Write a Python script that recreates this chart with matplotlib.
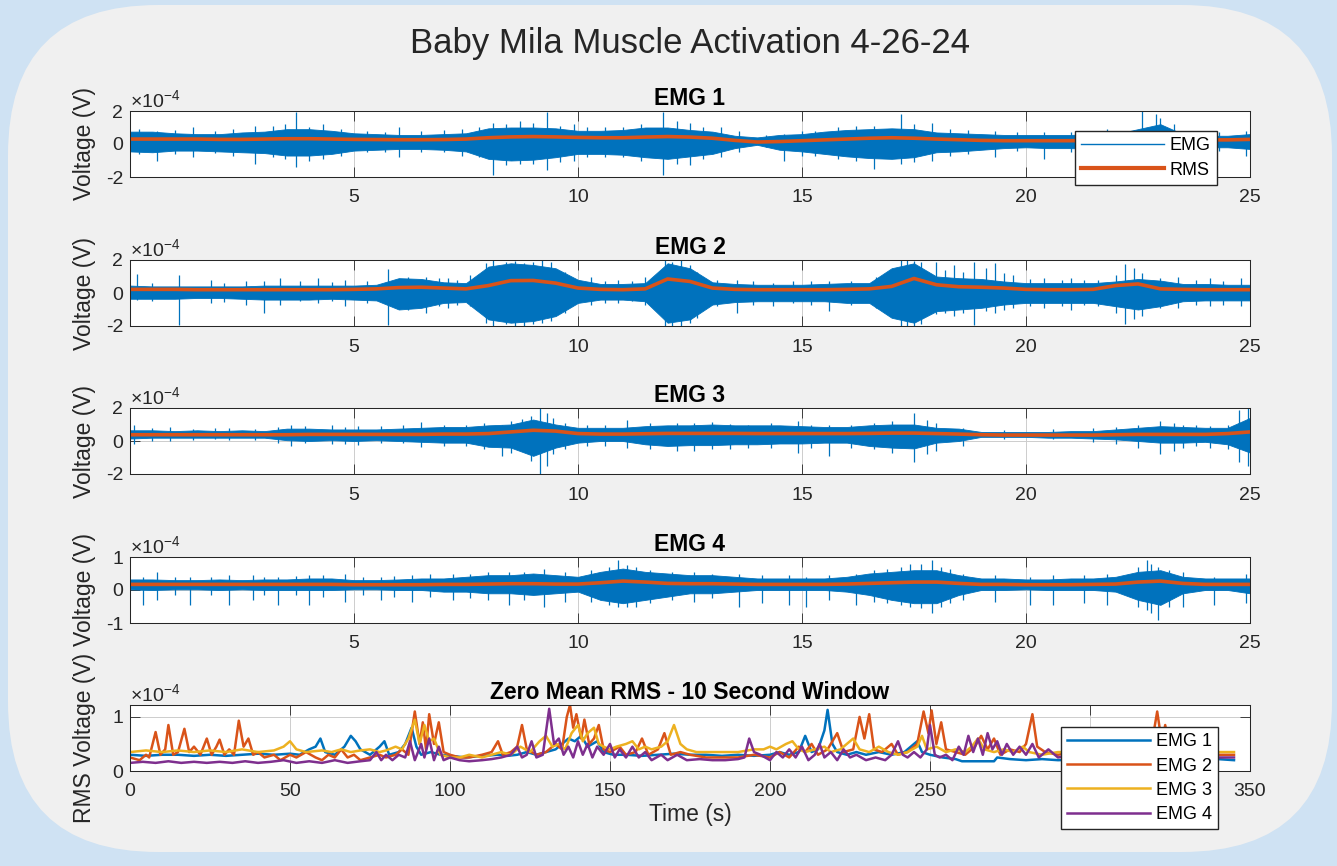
import numpy as np
import matplotlib.pyplot as plt
from matplotlib.patches import FancyBboxPatch
from matplotlib.lines import Line2D

plt.rcParams['font.family'] = ['Liberation Sans', 'DejaVu Sans']
plt.rcParams['mathtext.fontset'] = 'custom'
plt.rcParams['mathtext.rm'] = 'Liberation Sans'
plt.rcParams['mathtext.it'] = 'Liberation Sans:italic'
plt.rcParams['axes.unicode_minus'] = False

# colours (MATLAB default order)
BLUE = '#0072BD'
ORANGE = '#D95319'
YELLOW = '#EDB120'
PURPLE = '#7E2F8E'
INK = '#262626'

# ---------------- data (all voltages in units of 1e-4 V) ----------------
# envelope samples every 0.5 s from 0 to 25 s
t_env = np.arange(0, 25.01, 0.5)

emg1_upper = [.75, .75, .65, .6, .6, .7, .75, .9, .9, .8, .65, .6, .55, .55, .6, .65, .95, 1.0, 1.0, .95,
              .8, .8, .85, 1.0, 1.0, .85, .75, .5, .4, .55, .6, .75, .85, .9, .95, .9, .7, .65, .6, .55,
              .55, .55, .55, .6, .6, .9, 1.2, .6, .5, .5, .6]
emg1_lower = [-.45, -.5, -.4, -.4, -.45, -.5, -.55, -.7, -.7, -.6, -.4, -.35, -.3, -.3, -.35, -.45, -.9, -1.0,
              -.95, -.8, -.6, -.6, -.65, -.8, -.9, -.75, -.6, -.25, -.05, -.35, -.45, -.6, -.75, -.85, -.9,
              -.8, -.5, -.45, -.35, -.25, -.2, -.25, -.25, -.3, -.3, -.45, -.5, -.3, -.2, -.2, -.3]
emg1_rms = [.3, .3, .3, .3, .28, .28, .3, .32, .32, .3, .28, .27, .26, .26, .27, .3, .38, .43, .45, .43,
            .4, .38, .38, .42, .45, .42, .35, .22, .12, .15, .2, .25, .3, .35, .38, .35, .3, .26, .22, .2,
            .2, .2, .2, .22, .25, .3, .35, .3, .25, .25, .28]
# (time, low tip, high tip) of the individual spikes sticking out of the dense trace
emg1_spikes = [(0.2, -0.6, 0.9), (0.6, -1.0, 0.8), (1.0, -0.6, 0.85), (1.4, -0.8, 1.0), (1.9, -0.55, 0.8),
               (2.3, -0.7, 0.9), (2.8, -1.2, 1.1), (3.2, -0.8, 1.1), (3.45, -0.9, 1.2), (3.7, -1.4, 1.95),
               (4.0, -1.0, 1.0), (4.3, -0.9, 1.2), (4.7, -0.7, 0.9), (5.3, -0.5, 0.8), (5.7, -0.5, 0.75),
               (6.0, -0.8, 1.0), (6.5, -0.5, 0.8), (7.0, -0.5, 0.85), (7.4, -0.7, 0.9), (7.8, -0.8, 1.0),
               (8.1, -1.9, 1.3), (8.4, -1.3, 1.2), (8.7, -1.2, 1.4), (9.0, -1.2, 1.3), (9.3, -1.6, 1.95),
               (9.6, -1.1, 1.1), (9.9, -1.0, 1.2), (10.2, -0.8, 1.0), (10.6, -0.8, 1.0), (11.0, -0.8, 1.0),
               (11.4, -1.0, 1.2), (11.9, -1.9, 1.95), (12.2, -1.2, 1.4), (12.5, -1.3, 1.3),
               (12.8, -0.9, 1.0), (13.2, -0.8, 1.0), (13.6, -0.5, 0.8), (14.2, -0.2, 0.55),
               (14.6, -1.0, 0.6), (15.0, -0.7, 0.8), (15.3, -0.7, 0.8), (15.8, -0.9, 1.0),
               (16.2, -1.0, 1.1), (16.6, -1.5, 1.1), (17.2, -1.2, 1.84), (17.5, -1.1, 1.2),
               (17.9, -1.0, 1.3), (18.3, -0.7, 0.9), (18.7, -0.6, 0.85), (19.3, -0.8, 0.8),
               (19.8, -0.4, 0.7), (20.4, -0.9, 0.7), (21.0, -0.5, 0.75), (21.4, -0.4, 0.7),
               (21.8, -0.8, 0.9), (22.6, -0.6, 2.0), (22.9, -0.7, 1.8), (23.0, -0.5, 1.6),
               (23.3, -0.5, 1.2), (23.7, -0.4, 0.7), (24.3, -0.4, 0.75), (24.9, -0.7, 0.8)]

emg2_upper = [.45, .4, .4, .4, .4, .4, .45, .45, .45, .45, .45, .5, .9, .85, .65, .6, 1.6, 1.8, 1.7, 1.5,
              .8, .55, .55, .6, 1.8, 1.5, .65, .55, .5, .5, .5, .55, .6, .6, 1.5, 1.8, 1.0, .9, .85, .7,
              .6, .6, .6, .6, .7, .85, .75, .55, .55, .5, .5]
emg2_lower = [-.35, -.35, -.35, -.3, -.3, -.35, -.4, -.4, -.4, -.35, -.4, -.45, -1.0, -.9, -.6, -.55, -1.6,
              -1.8, -1.7, -1.4, -.6, -.4, -.4, -.5, -1.8, -1.6, -.7, -.55, -.5, -.5, -.5, -.5, -.6, -.6,
              -1.5, -1.8, -1.1, -1.0, -.9, -.7, -.6, -.6, -.6, -.6, -.8, -1.0, -.8, -.5, -.45, -.45, -.45]
emg2_rms = [.22, .22, .22, .2, .2, .2, .2, .2, .2, .2, .22, .25, .33, .35, .3, .25, .45, .75, .76, .6,
            .3, .22, .2, .25, .85, .7, .3, .22, .2, .2, .2, .2, .22, .25, .4, .88, .5, .38, .35, .3,
            .22, .2, .2, .22, .45, .55, .25, .22, .2, .2, .2]
emg2_spikes = [(0.15, -0.4, 1.15), (0.5, -0.5, 0.6), (1.1, -1.95, 1.1), (1.8, -0.6, 0.8), (2.1, -0.55, 0.6),
               (2.6, -0.7, 0.7), (3.0, -1.2, 0.75), (3.35, -0.7, 0.9), (3.8, -0.5, 0.7), (4.2, -0.6, 0.9),
               (4.5, -0.5, 0.65), (4.8, -0.8, 0.8), (5.3, -0.6, 0.75), (5.75, -1.95, 1.45),
               (6.2, -1.0, 1.0), (6.6, -1.2, 0.95), (6.9, -0.8, 0.9), (7.1, -0.9, 0.9), (7.3, -0.7, 0.8),
               (7.6, -0.8, 1.1), (7.95, -1.8, 1.8), (8.1, -2.0, 2.0), (8.4, -1.9, 1.9), (8.6, -2.0, 1.95),
               (8.8, -2.0, 1.8), (9.0, -1.9, 1.9), (9.2, -1.8, 2.0), (9.4, -1.7, 1.9), (9.7, -1.2, 1.3),
               (10.3, -0.7, 1.0), (10.6, -0.6, 0.7), (10.9, -0.6, 0.8), (11.2, -0.5, 0.75),
               (11.5, -0.7, 1.0), (11.95, -2.0, 2.0), (12.1, -2.0, 1.9), (12.3, -2.0, 2.0),
               (12.5, -1.8, 1.7), (12.65, -1.5, 1.3), (13.1, -0.8, 0.8), (13.55, -1.2, 0.8),
               (13.9, -0.7, 0.7), (14.35, -0.8, 0.6), (14.8, -0.6, 0.7), (15.2, -0.7, 0.7),
               (15.6, -1.1, 0.7), (16.1, -0.7, 0.75), (16.65, -0.9, 1.0), (17.2, -2.0, 2.0),
               (17.35, -2.0, 2.0), (17.5, -2.0, 1.95), (17.65, -1.9, 1.9), (18.0, -1.3, 1.9),
               (18.2, -1.2, 1.4), (18.4, -1.4, 1.7), (18.6, -1.2, 1.3), (18.85, -1.95, 1.9),
               (19.1, -1.1, 1.5), (19.3, -1.2, 1.8), (19.5, -1.0, 1.2), (19.7, -0.9, 1.1),
               (20.1, -0.8, 0.85), (20.4, -0.9, 0.9), (20.8, -0.8, 0.8), (21.0, -1.0, 0.9),
               (21.3, -0.7, 0.8), (21.6, -0.8, 0.8), (22.0, -1.2, 1.1), (22.2, -1.9, 1.75),
               (22.4, -1.6, 1.5), (22.6, -1.4, 1.2), (23.0, -0.9, 0.9), (23.4, -0.9, 1.0),
               (23.8, -0.7, 0.8), (24.1, -0.8, 0.9), (24.4, -0.7, 0.75), (24.8, -0.8, 0.9)]

emg3_upper = [.65, .65, .6, .65, .6, .65, .6, .75, .75, .7, .7, .7, .75, .8, .85, .85, .95, 1.0, 1.3, 1.0,
              .8, .8, .8, .9, .95, .95, 1.0, .95, .95, .95, .9, .85, .85, .95, 1.0, 1.0, .8, .75, .55, .55,
              .55, .55, .6, .6, .7, .8, .9, .85, .8, .8, 1.4]
emg3_lower = [.15, .2, .2, .2, .2, .2, .2, .05, .0, .05, .0, .05, .0, -.05, -.1, -.1, -.35, -.4, -.9, -.4,
              -.1, .0, .0, -.2, -.3, -.25, -.25, -.2, -.2, -.15, -.15, -.1, -.1, -.3, -.4, -.45, -.1, .0,
              .25, .25, .25, .2, .2, .15, .1, .0, -.1, -.1, -.05, -.2, -.7]
emg3_rms = [.38, .38, .38, .38, .38, .38, .38, .38, .4, .4, .4, .4, .4, .4, .42, .42, .45, .55, .65, .6,
            .45, .42, .42, .44, .46, .46, .46, .46, .45, .45, .45, .45, .45, .46, .48, .48, .45, .42, .38,
            .36, .36, .36, .36, .36, .38, .4, .4, .4, .4, .45, .55]
emg3_spikes = [(0.1, -0.2, 1.0), (0.5, 0.0, 0.8), (0.9, 0.0, 0.85), (1.4, 0.05, 0.75), (1.9, 0.1, 0.8),
               (2.2, 0.05, 0.8), (2.8, 0.05, 0.75), (3.3, -0.1, 0.85), (3.6, -0.3, 1.0), (3.9, -0.15, 0.9),
               (4.5, -0.2, 0.95), (4.8, -0.2, 0.85), (5.1, -0.25, 0.9), (5.6, -0.1, 0.9), (6.1, -0.1, 0.95),
               (6.5, -0.35, 1.15), (7.0, -0.3, 0.95), (7.5, -0.3, 1.0), (7.9, -0.5, 1.1), (8.3, -0.9, 1.0),
               (8.5, -0.7, 1.2), (8.75, -0.6, 1.35), (8.95, -1.2, 1.5), (9.15, -2.0, 2.0), (9.3, -1.5, 1.7),
               (9.45, -0.8, 1.4), (9.7, -0.5, 1.1), (10.2, -0.3, 0.95), (10.6, -0.3, 1.0), (11.1, -0.4, 1.3),
               (11.6, -0.5, 1.1), (12.2, -0.6, 1.1), (12.6, -0.6, 1.1), (13.0, -0.5, 1.15),
               (13.4, -0.5, 1.05), (13.8, -0.4, 1.0), (14.3, -0.4, 1.1), (14.9, -0.7, 1.2),
               (15.2, -0.4, 1.0), (15.6, -0.9, 0.95), (16.1, -0.4, 1.0), (16.6, -0.5, 1.1),
               (17.0, -0.7, 1.2), (17.5, -1.3, 1.7), (17.8, -0.8, 1.3), (18.0, -0.6, 1.1),
               (18.6, -0.3, 0.8), (19.5, 0.15, 0.65), (20.6, 0.1, 0.7), (21.5, -0.05, 0.8),
               (22.0, -0.2, 0.85), (22.5, -0.4, 0.95), (23.0, -0.8, 1.2), (23.3, -0.6, 1.1),
               (23.5, -0.4, 1.0), (23.8, -0.3, 0.95), (24.1, -0.4, 0.9), (24.5, -0.5, 1.0),
               (24.75, -1.3, 1.9), (24.95, -1.5, 2.0)]

emg4_upper = [.32, .32, .3, .3, .32, .3, .32, .32, .35, .35, .3, .3, .32, .35, .35, .4, .45, .45, .5, .45,
              .4, .55, .65, .55, .5, .45, .45, .4, .35, .35, .35, .35, .4, .5, .55, .6, .6, .45, .35, .35,
              .32, .32, .35, .35, .4, .55, .6, .4, .35, .35, .35]
emg4_lower = [.02, .0, .02, .02, .0, .02, .0, .0, .0, .0, .02, .02, .0, .0, -.05, -.05, -.1, -.1, -.15,
              -.1, -.05, -.3, -.4, -.3, -.2, -.1, -.1, -.05, .0, .0, .0, .0, -.05, -.15, -.3, -.4, -.4,
              -.15, .0, .0, .02, .0, .0, .0, -.05, -.3, -.45, -.1, .0, .0, -.1]
emg4_rms = [.17, .17, .17, .17, .17, .17, .17, .17, .17, .17, .16, .16, .16, .16, .17, .17, .18, .19, .19,
            .18, .18, .22, .27, .24, .2, .19, .19, .18, .17, .17, .17, .17, .18, .2, .22, .24, .24, .2,
            .17, .17, .16, .16, .16, .17, .18, .24, .27, .2, .17, .17, .17]
emg4_spikes = [(0.3, -0.45, 0.4), (0.6, -0.3, 0.55), (1.0, -0.15, 0.4), (1.35, -0.45, 0.4),
               (1.8, -0.15, 0.4), (2.2, -0.45, 0.45), (2.75, -0.3, 0.45), (3.0, -0.15, 0.4),
               (3.3, -0.45, 0.4), (3.7, -0.15, 0.42), (4.0, -0.45, 0.45), (4.3, -0.2, 0.45),
               (4.8, -0.35, 0.5), (5.2, -0.15, 0.4), (5.6, -0.3, 0.4), (5.9, -0.2, 0.42), (6.3, -0.35, 0.45),
               (6.7, -0.2, 0.5), (7.2, -0.3, 0.5), (7.6, -0.25, 0.5), (8.0, -0.3, 0.55), (8.45, -0.45, 0.55),
               (8.8, -0.3, 0.55), (9.25, -0.5, 0.65), (9.7, -0.35, 0.55), (10.3, -0.35, 0.6),
               (10.7, -0.45, 0.7), (10.9, -0.5, 0.9), (11.1, -0.5, 0.75), (11.3, -0.5, 0.7),
               (11.6, -0.4, 0.6), (12.1, -0.3, 0.55), (12.6, -0.35, 0.55), (13.0, -0.25, 0.5),
               (13.6, -0.5, 0.5), (14.1, -0.4, 0.45), (14.7, -0.45, 0.45), (15.1, -0.5, 0.4),
               (15.6, -0.3, 0.45), (16.2, -0.45, 0.5), (16.6, -0.35, 0.6), (16.9, -0.4, 0.65),
               (17.2, -0.45, 0.7), (17.4, -0.5, 0.8), (17.65, -0.55, 0.8), (17.9, -0.7, 0.9),
               (18.1, -0.5, 0.7), (18.3, -0.4, 0.65), (18.6, -0.3, 0.5), (19.3, -0.35, 0.45),
               (20.1, -0.45, 0.4), (20.6, -0.45, 0.45), (21.3, -0.4, 0.45), (21.8, -0.45, 0.5),
               (22.5, -0.5, 0.7), (22.7, -0.6, 0.9), (22.8, -0.7, 0.8), (22.95, -0.9, 0.7),
               (23.2, -0.5, 0.6), (23.5, -0.5, 0.55), (24.2, -0.45, 0.4), (24.9, -0.4, 0.5)]

# zero-mean RMS over the whole 350 s recording, (time s, value) samples
rms1_t = [0, 5, 10, 15, 20, 25, 30, 35, 40, 45, 50, 53, 56, 58, 59.5, 61, 64, 67, 69, 70.5, 72, 75, 78,
          79.5, 81, 84, 86, 88, 89.5, 91, 94, 97, 100, 105, 110, 115, 118, 121, 124, 127, 130, 133, 135,
          137, 139, 141, 143, 146, 148, 151, 155, 160, 165, 170, 175, 180, 185, 190, 195, 200, 203, 206,
          209, 211, 213, 215, 217, 218, 219.5, 221, 224, 227, 230, 234, 238, 242, 244, 246, 247.5, 250,
          254, 258, 260, 265, 270, 271, 275, 280, 285, 290, 300, 310, 320, 330, 340, 345]
rms1_v = [.3, .28, .3, .3, .28, .3, .28, .3, .32, .3, .32, .3, .4, .45, .6, .35, .3, .45, .65, .55, .4, .3,
          .45, .55, .3, .35, .5, .8, .45, .3, .35, .3, .28, .25, .28, .3, .28, .3, .35, .3, .35, .4, .5,
          .6, .55, .65, .45, .55, .35, .3, .3, .28, .3, .32, .3, .3, .28, .3, .28, .3, .35, .3, .35, .65,
          .35, .4, .75, 1.13, .5, .35, .3, .35, .3, .35, .3, .35, .45, .55, .35, .3, .25, .22, .18, .18,
          .18, .25, .22, .2, .22, .2, .22, .2, .22, .2, .22, .2]

rms2_t = [0, 3, 5, 6, 8, 9.5, 11, 12, 13.5, 15, 17, 18.5, 20, 22, 24, 25.5, 27, 28, 29.5, 31, 32.5, 34,
          35.5, 37, 38.5, 40, 42, 45, 47, 50, 52, 55, 58, 60, 62, 64, 66, 68, 70, 72, 75, 78, 80, 83, 85,
          87, 89, 90.5, 91.5, 92.5, 93.5, 95, 96.5, 98, 100, 103, 106, 110, 113, 115, 116.5, 119, 121,
          122.5, 124, 127, 130, 133, 135, 136.5, 137.5, 138.5, 139.5, 141, 142, 143.5, 145, 146.5, 148,
          150, 153, 155, 158, 160, 162, 165, 167, 169, 172, 175, 180, 185, 190, 195, 200, 203, 206, 209,
          211, 213, 215, 218, 221, 223, 226, 228, 229.5, 231, 232.5, 235, 238, 240, 243, 246, 248, 249.5,
          250.5, 252, 253.5, 255, 258, 261, 264, 266, 268, 270, 272, 275, 278, 280, 282, 283.5, 286, 290,
          295, 300, 305, 310, 315, 319, 321, 322.5, 323.5, 325, 330, 335, 340, 345]
rms2_v = [.25, .2, .3, .25, .72, .3, .4, .85, .3, .35, .78, .35, .45, .3, .6, .3, .45, .58, .3, .4, .3, .93,
          .45, .6, .3, .35, .25, .3, .2, .3, .25, .35, .25, .2, .3, .25, .4, .25, .3, .2, .25, .3, .25, .3,
          .4, .3, 1.1, .5, .9, .4, 1.05, .5, .9, .35, .3, .25, .25, .3, .35, .55, .3, .35, .45, .85, .4,
          .3, .35, .5, .4, 1.0, 1.22, .8, 1.05, .6, .95, .5, .6, .85, .4, .35, .45, .3, .35, .6, .3, .4,
          .7, .3, .35, .3, .25, .25, .25, .3, .25, .35, .25, .45, .35, .5, .3, .4, .7, .35, .4, 1.0, .6,
          1.05, .4, .35, .5, .3, .35, .5, 1.1, .7, 1.12, .5, .9, .4, .35, .3, .45, .65, .4, .6, .3, .4,
          .35, .5, 1.05, .45, .35, .3, .35, .3, .4, .35, .3, .4, 1.1, .5, .85, .35, .3, .35, .3, .3]

rms3_t = [0, 5, 10, 15, 20, 25, 30, 35, 40, 45, 48, 50, 52, 55, 60, 63, 66, 69, 72, 75, 78, 80, 83, 85,
          87, 89, 90.5, 92, 93.5, 95, 97, 100, 103, 106, 110, 113, 116, 119, 122, 125, 128, 130, 132, 134,
          136, 138, 140, 141.5, 143, 145, 146.5, 148, 150, 152, 155, 157, 159, 161, 163, 166, 168, 170,
          172, 174, 177, 180, 185, 190, 195, 198, 200, 202, 205, 207, 209, 211, 214, 217, 219, 222, 224,
          226, 228, 231, 234, 237, 240, 243, 246, 247.5, 249, 252, 255, 258, 261, 263, 265, 267, 270, 273,
          276, 279, 281, 285, 290, 300, 310, 320, 330, 340, 345]
rms3_v = [.35, .38, .35, .38, .35, .38, .35, .4, .35, .38, .45, .55, .4, .35, .38, .35, .4, .35, .38, .4,
          .35, .38, .45, .4, .6, .95, .5, .85, .55, .6, .3, .25, .25, .3, .25, .3, .35, .3, .45, .35, .55,
          .65, .45, .5, .4, .7, .85, .55, .7, .8, .5, .45, .4, .45, .5, .55, .4, .45, .4, .45, .55, .85,
          .5, .4, .35, .35, .35, .35, .4, .4, .45, .4, .5, .55, .4, .35, .4, .45, .35, .4, .5, .6, .4, .35,
          .45, .35, .3, .35, .45, .65, .4, .45, .35, .4, .35, .45, .6, .4, .35, .4, .35, .45, .35, .3, .35,
          .35, .35, .35, .35, .35, .35]

rms4_t = [0, 4, 8, 12, 16, 20, 24, 28, 32, 36, 40, 44, 48, 52, 56, 60, 64, 68, 72, 75, 77, 78.5, 80, 82,
          84, 86, 87.5, 89, 91, 92, 93.5, 95, 96.5, 98, 100, 103, 106, 110, 113, 116, 119, 121, 122.5, 124,
          125.5, 127, 129, 131, 132.5, 134, 135.5, 137, 138.5, 140, 141.5, 143, 144.5, 146, 148, 150,
          151.5, 153, 155, 157, 159, 161, 163, 166, 168, 171, 174, 178, 182, 186, 190, 192, 193.5, 195,
          197, 200, 202, 204, 206, 208, 210, 212, 214, 215.5, 217, 219, 221, 223, 225, 227, 230, 233, 236,
          238, 240, 241.5, 243, 245, 247, 249, 250, 251.5, 253, 255, 257, 259, 260.5, 262, 263.5, 265,
          266.5, 268, 269.5, 271, 272.5, 274, 276, 278, 280, 282, 284, 287, 290, 295, 300, 305, 310, 315,
          320, 325, 330, 340, 345]
rms4_v = [.15, .17, .15, .18, .15, .17, .15, .17, .15, .18, .15, .17, .2, .15, .18, .15, .2, .15, .18, .2,
          .35, .2, .3, .2, .3, .25, .55, .2, .5, .25, .6, .2, .45, .2, .25, .2, .18, .2, .22, .25, .3, .45,
          .25, .3, .55, .25, .3, 1.15, .5, .6, .3, .45, .25, .55, .3, .5, .25, .45, .3, .5, .25, .4, .25,
          .45, .25, .35, .2, .3, .2, .3, .2, .22, .2, .2, .22, .25, .6, .35, .3, .2, .35, .25, .4, .25,
          .45, .2, .3, .5, .25, .35, .2, .4, .25, .3, .2, .25, .2, .3, .55, .3, .25, .35, .25, .4, .85, .3,
          .25, .3, .2, .45, .3, .65, .35, .6, .3, .7, .4, .55, .3, .5, .3, .45, .3, .5, .25, .4, .25, .3,
          .25, .3, .25, .3, .25, .3, .25, .25, .25]

emg_titles = ['EMG 1', 'EMG 2', 'EMG 3', 'EMG 4']
emg_ylims = [2, 2, 2, 1]
time_ticks = [5, 10, 15, 20, 25]
rms_ticks = [0, 50, 100, 150, 200, 250, 300, 350]

# ---------------- figure ----------------
W, H = 1337, 866
fig = plt.figure(figsize=(W / 100, H / 100), dpi=100, facecolor='#cfe2f3')
panel = FancyBboxPatch((0.08, 0.14), 13.24, 8.47, boxstyle='round,pad=0,rounding_size=1.5',
                       transform=fig.dpi_scale_trans, facecolor='#f0f0f0', edgecolor='none', zorder=-10)
fig.add_artist(panel)

fig.text(690 / W, 1 - 43 / H, 'Baby Mila Muscle Activation 4-26-24', ha='center', va='center',
         fontsize=25, color=INK)

ax_left, ax_width, ax_height = 130 / W, 1120 / W, 66 / H
ax_bottoms_px = [177, 326, 474, 623, 771]


def style_axes(ax):
    for s in ax.spines.values():
        s.set_color(INK)
        s.set_linewidth(0.75)
    ax.tick_params(direction='in', length=7.5, width=0.6, top=True, right=True, color=INK,
                   labelcolor=INK, labelsize=14)
    ax.tick_params(axis='x', pad=9)
    ax.tick_params(axis='y', pad=5)
    ax.grid(True, color='#cdcdcd', linewidth=0.7)
    ax.set_axisbelow(True)
    ax.text(0.0, 1.06, '×10$^{-4}$', transform=ax.transAxes, ha='left', va='baseline',
            fontsize=14, color=INK)


emg_data = [(emg1_upper, emg1_lower, emg1_rms, emg1_spikes),
            (emg2_upper, emg2_lower, emg2_rms, emg2_spikes),
            (emg3_upper, emg3_lower, emg3_rms, emg3_spikes),
            (emg4_upper, emg4_lower, emg4_rms, emg4_spikes)]

axes = []
for i, (upper, lower, rms, spikes) in enumerate(emg_data):
    ax = fig.add_axes([ax_left, 1 - ax_bottoms_px[i] / H, ax_width, ax_height])
    axes.append(ax)
    ax.fill_between(t_env, lower, upper, color=BLUE, linewidth=0.6)
    st, slo, shi = zip(*spikes)
    ax.vlines(st, slo, shi, color=BLUE, linewidth=0.9)
    ax.plot(t_env, rms, color=ORANGE, linewidth=2.6)
    lim = emg_ylims[i]
    ax.set_xlim(0, 25)
    ax.set_ylim(-lim, lim)
    ax.set_xticks(time_ticks)
    ax.set_yticks([-lim, 0, lim])
    ax.set_title(emg_titles[i], fontsize=16.5, fontweight='bold', color='black', pad=4)
    ax.set_ylabel('Voltage (V)', fontsize=16.5, color=INK)
    ax.yaxis.set_label_coords(-0.03, 0.5)
    style_axes(ax)

handles = [Line2D([], [], color=BLUE, linewidth=1.0), Line2D([], [], color=ORANGE, linewidth=3.0)]
fig.legend(handles, ['EMG', 'RMS'], loc='upper left', bbox_to_anchor=(1075 / W, 1 - 131 / H),
           bbox_transform=fig.transFigure, fontsize=13, frameon=True, fancybox=False,
           edgecolor=INK, framealpha=1, borderaxespad=0, borderpad=0.35, labelspacing=0.4,
           handlelength=4.6, handletextpad=0.3)

# ---------------- zero-mean RMS panel ----------------
ax5 = fig.add_axes([ax_left, 1 - ax_bottoms_px[4] / H, ax_width, ax_height])
ax5.plot(rms1_t, rms1_v, color=BLUE, linewidth=1.8, label='EMG 1')
ax5.plot(rms2_t, rms2_v, color=ORANGE, linewidth=1.8, label='EMG 2')
ax5.plot(rms3_t, rms3_v, color=YELLOW, linewidth=1.8, label='EMG 3')
ax5.plot(rms4_t, rms4_v, color=PURPLE, linewidth=1.8, label='EMG 4')
ax5.set_xlim(0, 350)
ax5.set_ylim(0, 1.22)
ax5.set_xticks(rms_ticks)
ax5.set_yticks([0, 1])
ax5.set_title('Zero Mean RMS - 10 Second Window', fontsize=16.5, fontweight='bold', color='black', pad=4)
ax5.set_ylabel('RMS Voltage (V)', fontsize=16.5, color=INK)
ax5.yaxis.set_label_coords(-0.03, 0.5)
ax5.set_xlabel('Time (s)', fontsize=16.5, color=INK, labelpad=2)
style_axes(ax5)

fig.legend(*ax5.get_legend_handles_labels(), loc='upper left', bbox_to_anchor=(1061 / W, 1 - 727 / H),
           bbox_transform=fig.transFigure, fontsize=13, frameon=True, fancybox=False,
           edgecolor=INK, framealpha=1, borderaxespad=0, borderpad=0.35, labelspacing=0.4,
           handlelength=4.6, handletextpad=0.3)

fig.savefig('out.png', dpi=100, facecolor=fig.get_facecolor())
